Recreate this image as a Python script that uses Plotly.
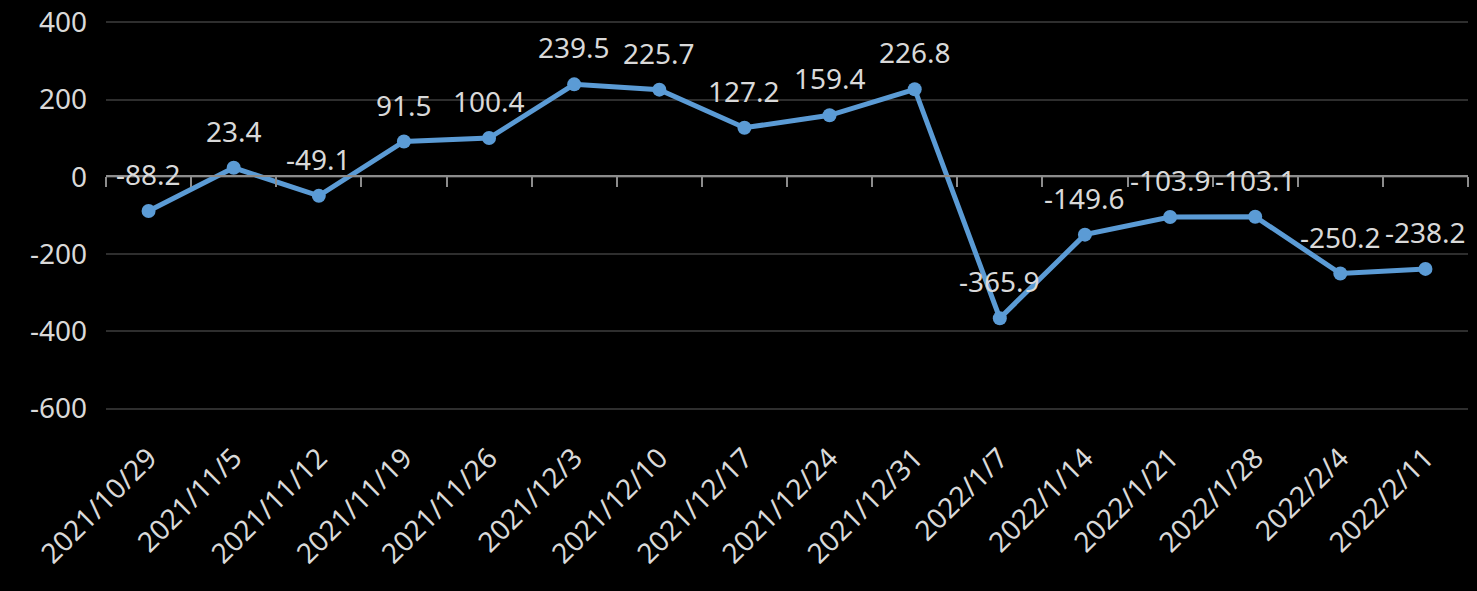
import plotly.graph_objects as go

dates = ["2021/10/29", "2021/11/5", "2021/11/12", "2021/11/19", "2021/11/26",
         "2021/12/3", "2021/12/10", "2021/12/17", "2021/12/24", "2021/12/31",
         "2022/1/7", "2022/1/14", "2022/1/21", "2022/1/28", "2022/2/4", "2022/2/11"]
values = [-88.2, 23.4, -49.1, 91.5, 100.4, 239.5, 225.7, 127.2, 159.4, 226.8,
          -365.9, -149.6, -103.9, -103.1, -250.2, -238.2]
y_ticks = [400, 200, 0, -200, -400, -600]

FONT = "Noto Sans"
TXT = "#d9d9d9"
BLUE = "#5b9bd5"

fig = go.Figure()
fig.add_trace(go.Scatter(
    x=dates, y=values, mode="lines+markers",
    line=dict(color=BLUE, width=5),
    marker=dict(color=BLUE, size=14),
    hoverinfo="x+y", showlegend=False,
))
# invisible trace to carry the zero-line category axis
fig.add_trace(go.Scatter(x=dates, y=values, xaxis="x2", mode="none",
                         showlegend=False, hoverinfo="skip"))

for d, v in zip(dates, values):
    fig.add_annotation(x=d, y=v, text=f"{v:.1f}", showarrow=False,
                       yshift=37, font=dict(family=FONT, size=28, color=TXT))

fig.update_layout(
    width=1477, height=591,
    paper_bgcolor="black", plot_bgcolor="black",
    margin=dict(l=106, r=9, t=20, b=180),
    font=dict(family=FONT, color=TXT),
    xaxis=dict(
        type="category", showgrid=False, showline=False, zeroline=False,
        tickangle=-45, ticks="", tickfont=dict(family=FONT, size=28, color=TXT),
        range=[-0.5, len(dates) - 0.5], ticklabelstandoff=24, automargin=False,
    ),
    xaxis2=dict(
        type="category", overlaying="x", matches="x", anchor="free", position=0.6,
        showticklabels=False, showgrid=False, zeroline=False,
        showline=True, linecolor="#8c8c8c", linewidth=1.5,
        ticks="outside", tickson="boundaries", ticklen=10, tickcolor="#8c8c8c", tickwidth=1.5,
        side="bottom", automargin=False,
    ),
    yaxis=dict(
        range=[-606, 406], tickvals=y_ticks, ticktext=[str(t) for t in y_ticks],
        showgrid=True, gridcolor="#2e2e2e", gridwidth=1.5, zeroline=False, showline=False,
        tickfont=dict(family=FONT, size=28, color=TXT), ticklabelstandoff=18,
        automargin=False,
    ),
)

fig.write_html("out.html", config={"displayModeBar": False})
with open("out.html", encoding="utf-8") as f:
    html = f.read()
html = html.replace("<head>", "<head><style>html,body{margin:0;padding:0;background:#000;}</style>", 1)
with open("out.html", "w", encoding="utf-8") as f:
    f.write(html)
